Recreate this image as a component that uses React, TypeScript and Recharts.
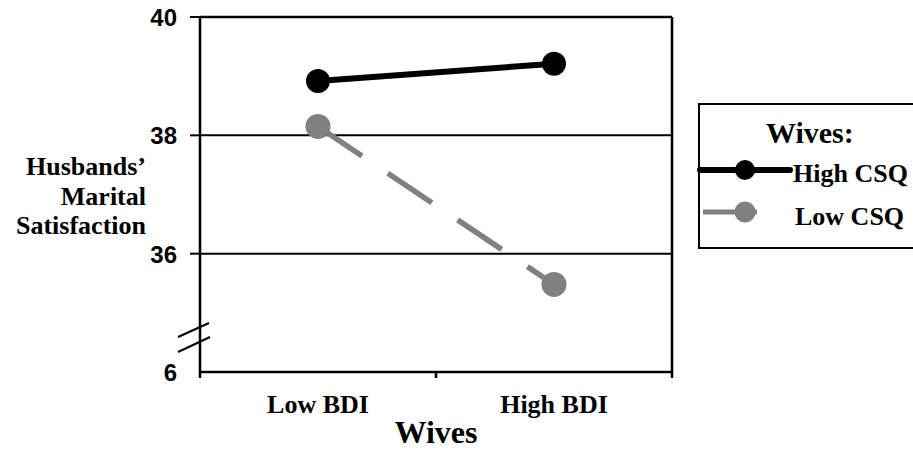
import React from 'react'
import { LineChart, Line, XAxis, YAxis, ReferenceLine } from 'recharts'

const categories = ['Low BDI', 'High BDI']
const highCsq = [38.92, 39.21]
const lowCsq = [38.15, 35.48]
const yTicks = [34, 36, 38, 40]
const yTickLabels = ['6', '36', '38', '40']
const yTitleLines = ['Husbands’', 'Marital', 'Satisfaction']
const xTitle = 'Wives'
const legendTitle = 'Wives:'
const seriesNames = ['High CSQ', 'Low CSQ']

const SERIF = '"Liberation Serif", "Times New Roman", serif'
const SANS = '"Liberation Sans", Arial, sans-serif'
const GRAY = '#808080'

// categories sit in the middle of each half, tick marks on the boundaries
const data = categories.map((name, i) => ({
  name,
  pos: i + 0.5,
  high: highCsq[i],
  low: lowCsq[i],
}))
const xTicks = [0, 0.5, 1, 1.5, 2]

function XTick(props: any) {
  const { x, y, payload } = props
  const v = payload.value as number
  if (Number.isInteger(v)) {
    return <line x1={x} x2={x} y1={y} y2={y + 6} stroke="#000" strokeWidth={2.5} />
  }
  const label = categories[Math.floor(v)]
  return (
    <text x={x} y={y + 41} textAnchor="middle" fontFamily={SERIF} fontWeight="bold" fontSize={26} fill="#000">
      {label}
    </text>
  )
}

function YTick(props: any) {
  const { x, y, payload } = props
  const idx = yTicks.indexOf(payload.value)
  const label = yTickLabels[idx]
  return (
    <g>
      {payload.value !== 34 && (
        <line x1={x - 10} x2={x} y1={y} y2={y} stroke="#000" strokeWidth={2} />
      )}
      {payload.value === 34 && (
        <g stroke="#000" strokeWidth={2}>
          <line x1={x - 22} y1={y - 35} x2={x + 9} y2={y - 49} />
          <line x1={x - 22} y1={y - 20} x2={x + 10} y2={y - 35} />
        </g>
      )}
      <text x={x - 23} y={y + 9} textAnchor="end" fontFamily={SANS} fontWeight="bold" fontSize={24} fill="#000">
        {label}
      </text>
    </g>
  )
}

function YTitle() {
  return (
    <text textAnchor="end" fontFamily={SERIF} fontWeight="bold" fontSize={26} fill="#000">
      {yTitleLines.map((line, i) => (
        <tspan key={line} x={146} y={175 + i * 29.5}>
          {line}
        </tspan>
      ))}
    </text>
  )
}

function XTitle(props: any) {
  const { viewBox } = props
  const cx = viewBox.x + viewBox.width / 2
  return (
    <text x={cx} y={443} textAnchor="middle" fontFamily={SERIF} fontWeight="bold" fontSize={32} fill="#000">
      {xTitle}
    </text>
  )
}

function LegendBox() {
  return (
    <svg
      width={913}
      height={454}
      style={{ position: 'absolute', left: 0, top: 0, pointerEvents: 'none' }}
    >
      <rect x={699} y={104} width={230} height={144} fill="#fff" stroke="#000" strokeWidth={2} />
      <text x={766} y={143} fontFamily={SERIF} fontWeight="bold" fontSize={30} fill="#000">
        {legendTitle}
      </text>
      <line x1={700} x2={790} y1={170} y2={170} stroke="#000" strokeWidth={6} strokeLinecap="round" />
      <circle cx={745} cy={170} r={10} fill="#000" />
      <text x={793} y={182} fontFamily={SERIF} fontWeight="bold" fontSize={26} fill="#000">
        {seriesNames[0]}
      </text>
      <line x1={703} x2={757} y1={212} y2={212} stroke={GRAY} strokeWidth={5} />
      <circle cx={745} cy={212} r={10.5} fill={GRAY} />
      <text x={795} y={225} fontFamily={SERIF} fontWeight="bold" fontSize={26} fill="#000">
        {seriesNames[1]}
      </text>
    </svg>
  )
}

export default function App() {
  return (
    <div style={{ position: 'absolute', left: 0, top: 0, width: 913, height: 454, background: '#fff' }}>
      <LineChart
        width={913}
        height={454}
        data={data}
        margin={{ top: 17, right: 241, bottom: 0, left: 0 }}
      >
        <XAxis
          dataKey="pos"
          type="number"
          domain={[0, 2]}
          ticks={xTicks}
          interval={0}
          height={82}
          tickLine={false}
          tickSize={0}
          tickMargin={0}
          tick={<XTick />}
          axisLine={{ stroke: '#000', strokeWidth: 2.5 }}
          label={<XTitle />}
        />
        <YAxis
          type="number"
          domain={[34, 40]}
          ticks={yTicks}
          interval={0}
          width={200}
          tickLine={false}
          tickSize={0}
          tickMargin={0}
          tick={<YTick />}
          axisLine={{ stroke: '#000', strokeWidth: 2.5 }}
          label={<YTitle />}
        />
        <ReferenceLine y={36} stroke="#000" strokeWidth={2} />
        <ReferenceLine y={38} stroke="#000" strokeWidth={2} />
        <ReferenceLine y={40} stroke="#000" strokeWidth={2.5} />
        <ReferenceLine x={2} stroke="#000" strokeWidth={2.5} />
        <Line
          dataKey="high"
          name={seriesNames[0]}
          stroke="#000"
          strokeWidth={6}
          dot={{ r: 12, fill: '#000', stroke: '#000', strokeWidth: 0 }}
          isAnimationActive={false}
        />
        <Line
          dataKey="low"
          name={seriesNames[1]}
          stroke={GRAY}
          strokeWidth={5.5}
          strokeDasharray="53 31"
          dot={{ r: 12.5, fill: GRAY, stroke: GRAY, strokeWidth: 0, strokeDasharray: '0' }}
          isAnimationActive={false}
        />
      </LineChart>
      <LegendBox />
    </div>
  )
}
